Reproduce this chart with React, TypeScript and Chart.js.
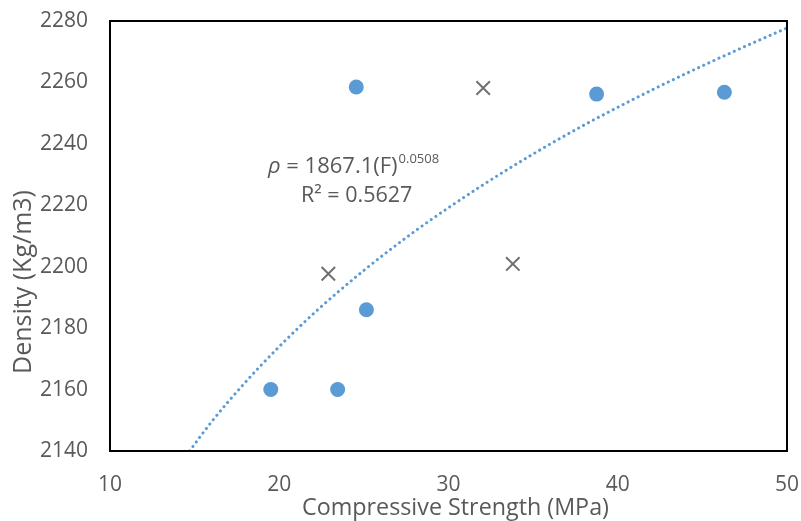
import React, { useEffect, useRef } from "react";
import { Chart, registerables } from "chart.js";

Chart.register(...registerables);

const measuredX = [24.55, 38.75, 46.3, 25.15, 19.5, 23.45];
const measuredY = [2258.5, 2256.2, 2256.8, 2186, 2160, 2160];
const otherX = [32.05, 22.9, 33.8];
const otherY = [2258.2, 2197.7, 2200.9];
const trendX = [14.7, 16, 18, 20, 22, 25, 28, 30, 32, 35, 38, 40, 42, 45, 48, 50];
const trendY = [2140, 2149.5, 2162.4, 2174.0, 2184.6, 2198.8, 2211.5, 2219.2, 2226.5, 2236.7, 2246.1, 2251.9, 2257.5, 2265.4, 2272.9, 2277.7];
const xTicks = [10, 20, 30, 40, 50];
const yTicks = [2140, 2160, 2180, 2200, 2220, 2240, 2260, 2280];
const xTitle = "Compressive Strength (MPa)";
const yTitle = "Density (Kg/m3)";
const eqMain = "\u03C1 = 1867.1(F)";
const eqExp = "0.0508";
const eqR2 = "R\u00B2 = 0.5627";

const FONT = "'Open Sans', 'Liberation Sans', sans-serif";
const GRAY = "#595959";
const BLUE = "#5B9BD5";

const boxPlugin = {
  id: "boxAndEq",
  afterDraw(chart: any) {
    const { ctx, chartArea, width } = chart;
    ctx.save();
    ctx.strokeStyle = "#000";
    ctx.lineWidth = 2;
    ctx.strokeRect(chartArea.left, chartArea.top, chartArea.right - chartArea.left, chartArea.bottom - chartArea.top);
    ctx.fillStyle = GRAY;
    // axis titles
    ctx.textAlign = "center";
    ctx.textBaseline = "middle";
    ctx.font = `23.3px ${FONT}`;
    ctx.fillText(xTitle, width / 2 + 55, 508);
    ctx.save();
    ctx.translate(24, 282);
    ctx.rotate(-Math.PI / 2);
    ctx.font = `25px ${FONT}`;
    ctx.fillText(yTitle, 0, 0);
    ctx.restore();
    // equation
    ctx.textBaseline = "alphabetic";
    ctx.textAlign = "left";
    const x0 = chartArea.left + 158;
    const y0 = chartArea.top + 152;
    ctx.font = `italic 22px ${FONT}`;
    ctx.fillText("\u03C1", x0, y0);
    const wr = ctx.measureText("\u03C1").width;
    ctx.font = `22px ${FONT}`;
    const rest = eqMain.slice(1);
    ctx.fillText(rest, x0 + wr, y0);
    const w = ctx.measureText(rest).width;
    ctx.font = `13px ${FONT}`;
    ctx.fillText(eqExp, x0 + wr + w + 1, y0 - 10);
    ctx.font = `21.5px ${FONT}`;
    ctx.fillText(eqR2, chartArea.left + 191, chartArea.top + 181);
    ctx.restore();
  },
};

export default function App() {
  const ref = useRef<HTMLCanvasElement>(null);
  useEffect(() => {
    const chart = new Chart(ref.current as HTMLCanvasElement, {
      type: "scatter",
      data: {
        datasets: [
          {
            label: "Trend",
            data: trendX.map((x, i) => ({ x, y: trendY[i] })),
            showLine: true,
            borderColor: BLUE,
            borderWidth: 3,
            borderDash: [0.1, 5.5],
            borderCapStyle: "round",
            pointRadius: 0,
            cubicInterpolationMode: "monotone",
            fill: false,
          } as any,
          {
            label: "Measured",
            data: measuredX.map((x, i) => ({ x, y: measuredY[i] })),
            pointStyle: "circle",
            pointRadius: 7.5,
            backgroundColor: BLUE,
            borderColor: BLUE,
            borderWidth: 0,
          },
          {
            label: "Other",
            data: otherX.map((x, i) => ({ x, y: otherY[i] })),
            pointStyle: "crossRot",
            pointRadius: 9.5,
            borderColor: "#707070",
            borderWidth: 2,
          },
        ],
      },
      options: {
        responsive: false,
        animation: false,
        layout: { padding: { top: 21, right: 14, left: 0, bottom: 0 } },
        plugins: { legend: { display: false }, tooltip: { enabled: false } },
        scales: {
          x: {
            type: "linear",
            min: 10,
            max: 50,
            afterBuildTicks: (s: any) => {
              s.ticks = xTicks.map((v) => ({ value: v }));
            },
            afterFit: (s: any) => {
              s.height = 70;
              s.paddingLeft = 0;
              s.paddingRight = 0;
            },
            grid: { display: false, drawTicks: false },
            border: { display: false },
            ticks: { color: GRAY, font: { family: FONT, size: 21 }, padding: 21, callback: (v: any) => String(v) },
            title: { display: false },
          },
          y: {
            type: "linear",
            min: 2140,
            max: 2280,
            afterBuildTicks: (s: any) => {
              s.ticks = yTicks.map((v) => ({ value: v }));
            },
            afterFit: (s: any) => {
              s.width = 110;
              s.paddingTop = 0;
              s.paddingBottom = 0;
            },
            grid: { display: false, drawTicks: false },
            border: { display: false },
            ticks: { color: GRAY, font: { family: FONT, size: 21 }, padding: 22, callback: (v: any) => String(v) },
            title: { display: false },
          },
        },
      },
      plugins: [boxPlugin],
    });
    return () => chart.destroy();
  }, []);
  return (
    <div style={{ position: "fixed", left: 0, top: 0, width: 801, height: 521, background: "#fff" }}>
      <canvas ref={ref} width={801} height={521} />
    </div>
  );
}
